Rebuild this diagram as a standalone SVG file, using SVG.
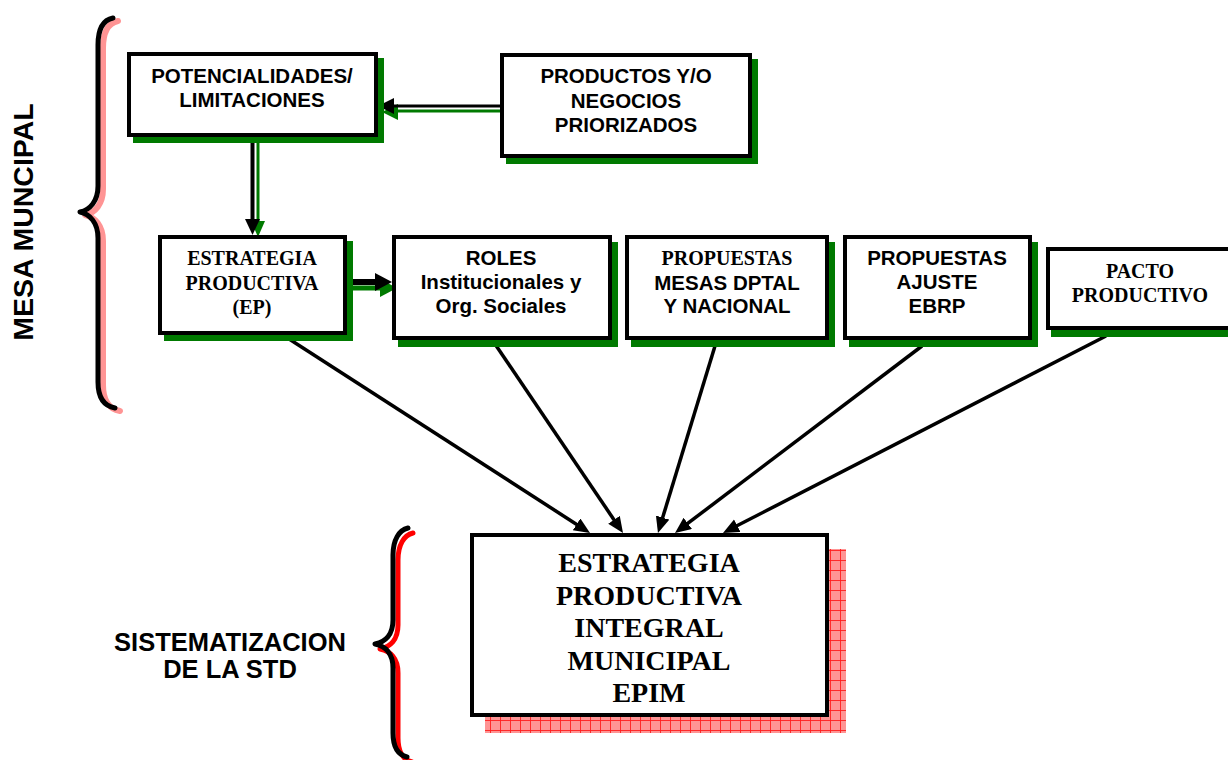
<svg xmlns="http://www.w3.org/2000/svg" width="1228" height="760" viewBox="0 0 1228 760">
<style>
  .box { fill: #ffffff; stroke: #000000; stroke-width: 4; }
  .shadow { fill: #007a00; stroke: none; }
  .sans { font-family: "Liberation Sans", Arial, sans-serif; font-weight: bold; fill: #000; text-anchor: middle; }
  .serif { font-family: "Liberation Serif", "Times New Roman", serif; font-weight: bold; fill: #000; text-anchor: middle; }
  .t20 { font-size: 20.5px; }
  .s20 { font-size: 20px; }
  .conn { stroke: #000; stroke-width: 3.5; fill: none; marker-end: url(#ah); }
  .gline { stroke: #007a00; fill: none; }
  .bline { stroke: #000; fill: none; }
  .brace { fill: none; stroke-linecap: round; stroke-linejoin: round; }
</style>
<defs>
  <marker id="ah" markerUnits="userSpaceOnUse" markerWidth="18" markerHeight="16" refX="8" refY="7" orient="auto">
    <path d="M0,0 L16,7 L0,14 z" fill="#000"/>
  </marker>
  <pattern id="hatch" patternUnits="userSpaceOnUse" width="10" height="10">
    <rect width="10" height="10" fill="#ff9494"/>
    <path d="M0,0.5 H10 M0.5,0 V10" stroke="#ff1e1e" stroke-width="0.9"/>
  </pattern>
</defs>
<rect width="1228" height="760" fill="#ffffff"/>

<!-- Braces and side labels -->
<g id="brace-mesa">
  <path class="brace" transform="translate(5,3)" stroke="#ff9494" stroke-width="6" d="M113,18 C103,20 98,30 98,45 L98,186 C98,201 90,210 80,212 C90,214 98,223 98,238 L98,382 C98,398 104,406 115,408"/>
  <path class="brace" stroke="#000" stroke-width="5" d="M113,18 C103,20 98,30 98,45 L98,186 C98,201 90,210 80,212 C90,214 98,223 98,238 L98,382 C98,398 104,406 115,408"/>
  <text class="sans" font-size="28.5" transform="translate(33,222) rotate(-90)">MESA MUNCIPAL</text>
</g>
<g id="brace-sistematizacion">
  <path class="brace" transform="translate(5,5)" stroke="#ff0000" stroke-width="5" d="M408,528 C399,530 393,540 393,555 L393,620 C393,635 385,642 375,644 C385,646 393,653 393,668 L393,733 C393,748 399,755 407,757"/>
  <path class="brace" stroke="#000" stroke-width="5" d="M408,528 C399,530 393,540 393,555 L393,620 C393,635 385,642 375,644 C385,646 393,653 393,668 L393,733 C393,748 399,755 407,757"/>
  <text class="sans" font-size="25.5" x="230" y="651">SISTEMATIZACION</text>
  <text class="sans" font-size="25.5" x="230" y="678">DE LA STD</text>
</g>

<!-- Connectors -->
<g id="connectors">
  <!-- PRODUCTOS -> POTENCIALIDADES -->
  <line class="gline" x1="396" y1="111" x2="507" y2="111" stroke-width="3"/>
  <polygon points="382,112 398,104 398,120" fill="#007a00"/>
  <line class="bline" x1="392" y1="106" x2="501" y2="106" stroke-width="3"/>
  <polygon points="378,106 394,98 394,114" fill="#000"/>
  <!-- POTENCIALIDADES -> ESTRATEGIA PRODUCTIVA -->
  <line class="gline" x1="258" y1="142" x2="258" y2="224" stroke-width="3"/>
  <polygon points="258,237 251,221 265,221" fill="#007a00"/>
  <line class="bline" x1="252.5" y1="137" x2="252.5" y2="222" stroke-width="4"/>
  <polygon points="252.5,235 245,219 260,219" fill="#000"/>
  <!-- EP -> ROLES (thick) -->
  <line class="gline" x1="350" y1="288" x2="382" y2="288" stroke-width="5"/>
  <polygon points="397,288 380,279 380,297" fill="#007a00"/>
  <line class="bline" x1="347" y1="282" x2="378" y2="282" stroke-width="6"/>
  <polygon points="392,282 375,273 375,291" fill="#000"/>
  <!-- to EPIM -->
  <line class="conn" x1="286" y1="337" x2="583.3" y2="528.7"/>
  <line class="conn" x1="495" y1="344" x2="618.5" y2="526.4"/>
  <line class="conn" x1="715" y1="346" x2="660.3" y2="525.3"/>
  <line class="conn" x1="922" y1="346" x2="681.4" y2="528.2"/>
  <line class="conn" x1="1106" y1="336" x2="730.1" y2="529.3"/>
</g>

<!-- Nodes -->
<g id="potencialidades">
  <rect class="shadow" x="133" y="58" width="251" height="85"/>
  <rect class="box" x="129" y="54" width="247" height="81"/>
  <text class="sans t20" x="252" y="83">POTENCIALIDADES/</text>
  <text class="sans t20" x="252" y="107">LIMITACIONES</text>
</g>
<g id="productos">
  <rect class="shadow" x="506" y="59" width="252" height="105"/>
  <rect class="box" x="502" y="55" width="248" height="101"/>
  <text class="sans t20" x="626" y="83">PRODUCTOS Y/O</text>
  <text class="sans t20" x="626" y="108">NEGOCIOS</text>
  <text class="sans t20" x="626" y="132">PRIORIZADOS</text>
</g>
<g id="estrategia-productiva">
  <rect class="shadow" x="164" y="241" width="189" height="100"/>
  <rect class="box" x="160" y="237" width="185" height="96"/>
  <text class="serif s20" x="252" y="265">ESTRATEGIA</text>
  <text class="serif s20" x="252" y="290">PRODUCTIVA</text>
  <text class="serif s20" x="252" y="314">(EP)</text>
</g>
<g id="roles">
  <rect class="shadow" x="398" y="242" width="220" height="105"/>
  <rect class="box" x="394" y="237" width="216" height="101"/>
  <text class="sans t20" x="501" y="265">ROLES</text>
  <text class="sans t20" x="501" y="289">Institucionales y</text>
  <text class="sans t20" x="501" y="313">Org. Sociales</text>
</g>
<g id="propuestas-mesas">
  <rect class="shadow" x="631" y="242" width="204" height="105"/>
  <rect class="box" x="627" y="237" width="200" height="101"/>
  <text class="serif s20" x="727" y="265">PROPUESTAS</text>
  <text class="sans t20" x="727" y="290">MESAS DPTAL</text>
  <text class="sans t20" x="727" y="313">Y NACIONAL</text>
</g>
<g id="propuestas-ajuste">
  <rect class="shadow" x="849" y="242" width="189" height="105"/>
  <rect class="box" x="845" y="237" width="185" height="101"/>
  <text class="sans t20" x="937" y="265">PROPUESTAS</text>
  <text class="sans t20" x="937" y="289">AJUSTE</text>
  <text class="sans t20" x="937" y="313">EBRP</text>
</g>
<g id="pacto-productivo">
  <rect class="shadow" x="1051" y="254" width="190" height="83"/>
  <rect class="box" x="1048" y="249" width="190" height="79"/>
  <text class="serif s20" x="1140" y="278">PACTO</text>
  <text class="serif s20" x="1140" y="302">PRODUCTIVO</text>
</g>
<g id="epim">
  <rect x="485" y="549" width="361" height="184" fill="url(#hatch)"/>
  <rect class="box" x="472" y="535" width="355" height="180"/>
  <text class="serif" font-size="28" x="649" y="572">ESTRATEGIA</text>
  <text class="serif" font-size="28" x="649" y="605">PRODUCTIVA</text>
  <text class="serif" font-size="28" x="649" y="637">INTEGRAL</text>
  <text class="serif" font-size="28" x="649" y="670">MUNICIPAL</text>
  <text class="serif" font-size="28" x="649" y="702">EPIM</text>
</g>
</svg>
